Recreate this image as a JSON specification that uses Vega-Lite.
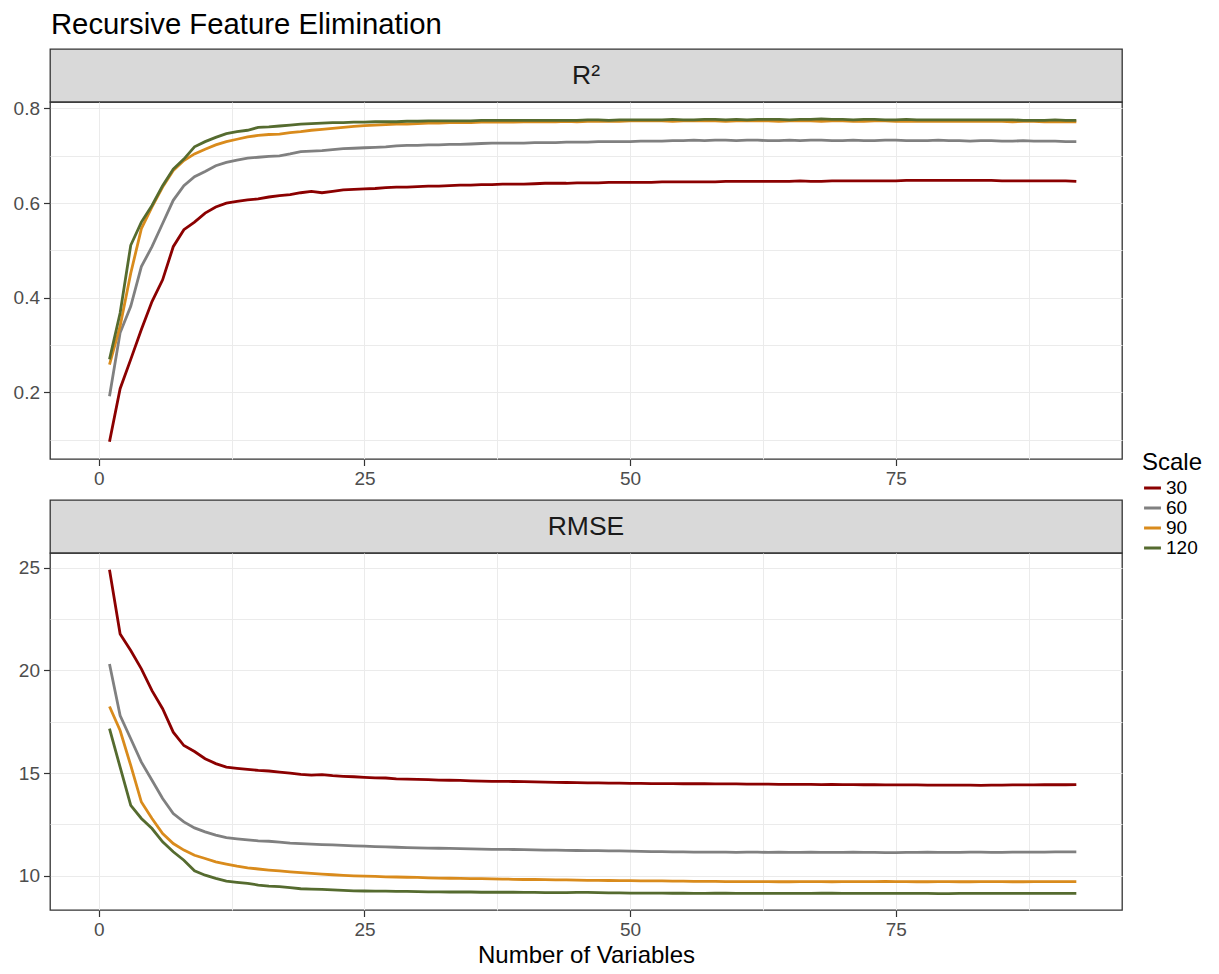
{
  "$schema": "https://vega.github.io/schema/vega-lite/v6.json",
  "background": "white",
  "padding": {"left": 12, "top": 11, "right": 5, "bottom": 5},
  "title": {"text": "Recursive Feature Elimination", "anchor": "start", "fontSize": 29.3, "font": "Liberation Sans", "fontWeight": "normal", "color": "#000000", "offset": 8, "dx": 38.5},
  "config": {
    "font": "Liberation Sans",
    "view": {"stroke": "#333333", "strokeWidth": 1.3},
    "axis": {"domain": false, "grid": true, "gridColor": "#ebebeb", "gridWidth": 1, "tickColor": "#333333", "tickSize": 6.5, "tickWidth": 1.2, "labelFont": "Liberation Sans", "labelFontSize": 19, "labelColor": "#4d4d4d", "labelPadding": 4, "titleFont": "Liberation Sans", "titleFontSize": 24, "titleFontWeight": "normal", "titleColor": "#000000"},
    "legend": {"titleFont": "Liberation Sans", "labelFont": "Liberation Sans", "titleFontSize": 24, "titleFontWeight": "normal", "titleColor": "#000000", "labelFontSize": 19, "labelColor": "#000000", "symbolType": "stroke", "symbolStrokeWidth": 3.2, "symbolSize": 285, "clipHeight": 18, "rowPadding": 1, "titlePadding": 4, "labelOffset": 3}
  },
  "datasets": {
    "s1": [{"label": "R²"}],
    "s2": [{"label": "RMSE"}],
    "d": [
      {"n":1,"scale":"30","r2":0.096,"rmse":24.89},{"n":2,"scale":"30","r2":0.208,"rmse":21.77},{"n":3,"scale":"30","r2":0.270,"rmse":20.96},{"n":4,"scale":"30","r2":0.333,"rmse":20.07},{"n":5,"scale":"30","r2":0.392,"rmse":19.01},{"n":6,"scale":"30","r2":0.438,"rmse":18.13},{"n":7,"scale":"30","r2":0.508,"rmse":16.99},{"n":8,"scale":"30","r2":0.544,"rmse":16.34},{"n":9,"scale":"30","r2":0.560,"rmse":16.05},{"n":10,"scale":"30","r2":0.579,"rmse":15.70},
      {"n":11,"scale":"30","r2":0.592,"rmse":15.46},{"n":12,"scale":"30","r2":0.600,"rmse":15.29},{"n":13,"scale":"30","r2":0.604,"rmse":15.23},{"n":14,"scale":"30","r2":0.607,"rmse":15.18},{"n":15,"scale":"30","r2":0.609,"rmse":15.13},{"n":16,"scale":"30","r2":0.613,"rmse":15.10},{"n":17,"scale":"30","r2":0.616,"rmse":15.05},{"n":18,"scale":"30","r2":0.618,"rmse":15.00},{"n":19,"scale":"30","r2":0.622,"rmse":14.94},{"n":20,"scale":"30","r2":0.625,"rmse":14.90},
      {"n":21,"scale":"30","r2":0.622,"rmse":14.92},{"n":22,"scale":"30","r2":0.625,"rmse":14.87},{"n":23,"scale":"30","r2":0.628,"rmse":14.84},{"n":24,"scale":"30","r2":0.629,"rmse":14.82},{"n":25,"scale":"30","r2":0.630,"rmse":14.79},{"n":26,"scale":"30","r2":0.631,"rmse":14.77},{"n":27,"scale":"30","r2":0.633,"rmse":14.76},{"n":28,"scale":"30","r2":0.634,"rmse":14.72},{"n":29,"scale":"30","r2":0.634,"rmse":14.70},{"n":30,"scale":"30","r2":0.635,"rmse":14.69},
      {"n":31,"scale":"30","r2":0.636,"rmse":14.68},{"n":32,"scale":"30","r2":0.636,"rmse":14.66},{"n":33,"scale":"30","r2":0.637,"rmse":14.65},{"n":34,"scale":"30","r2":0.638,"rmse":14.64},{"n":35,"scale":"30","r2":0.638,"rmse":14.62},{"n":36,"scale":"30","r2":0.639,"rmse":14.61},{"n":37,"scale":"30","r2":0.639,"rmse":14.60},{"n":38,"scale":"30","r2":0.640,"rmse":14.60},{"n":39,"scale":"30","r2":0.640,"rmse":14.59},{"n":40,"scale":"30","r2":0.640,"rmse":14.58},
      {"n":41,"scale":"30","r2":0.641,"rmse":14.57},{"n":42,"scale":"30","r2":0.642,"rmse":14.56},{"n":43,"scale":"30","r2":0.642,"rmse":14.55},{"n":44,"scale":"30","r2":0.642,"rmse":14.54},{"n":45,"scale":"30","r2":0.643,"rmse":14.53},{"n":46,"scale":"30","r2":0.643,"rmse":14.52},{"n":47,"scale":"30","r2":0.643,"rmse":14.52},{"n":48,"scale":"30","r2":0.644,"rmse":14.51},{"n":49,"scale":"30","r2":0.644,"rmse":14.51},{"n":50,"scale":"30","r2":0.644,"rmse":14.50},
      {"n":51,"scale":"30","r2":0.644,"rmse":14.50},{"n":52,"scale":"30","r2":0.644,"rmse":14.49},{"n":53,"scale":"30","r2":0.645,"rmse":14.49},{"n":54,"scale":"30","r2":0.645,"rmse":14.49},{"n":55,"scale":"30","r2":0.645,"rmse":14.48},{"n":56,"scale":"30","r2":0.645,"rmse":14.48},{"n":57,"scale":"30","r2":0.645,"rmse":14.48},{"n":58,"scale":"30","r2":0.645,"rmse":14.47},{"n":59,"scale":"30","r2":0.646,"rmse":14.47},{"n":60,"scale":"30","r2":0.646,"rmse":14.47},
      {"n":61,"scale":"30","r2":0.646,"rmse":14.46},{"n":62,"scale":"30","r2":0.646,"rmse":14.46},{"n":63,"scale":"30","r2":0.646,"rmse":14.46},{"n":64,"scale":"30","r2":0.646,"rmse":14.45},{"n":65,"scale":"30","r2":0.646,"rmse":14.45},{"n":66,"scale":"30","r2":0.647,"rmse":14.45},{"n":67,"scale":"30","r2":0.646,"rmse":14.45},{"n":68,"scale":"30","r2":0.646,"rmse":14.44},{"n":69,"scale":"30","r2":0.647,"rmse":14.45},{"n":70,"scale":"30","r2":0.647,"rmse":14.44},
      {"n":71,"scale":"30","r2":0.647,"rmse":14.44},{"n":72,"scale":"30","r2":0.647,"rmse":14.43},{"n":73,"scale":"30","r2":0.647,"rmse":14.43},{"n":74,"scale":"30","r2":0.647,"rmse":14.42},{"n":75,"scale":"30","r2":0.647,"rmse":14.42},{"n":76,"scale":"30","r2":0.648,"rmse":14.42},{"n":77,"scale":"30","r2":0.648,"rmse":14.42},{"n":78,"scale":"30","r2":0.648,"rmse":14.41},{"n":79,"scale":"30","r2":0.648,"rmse":14.41},{"n":80,"scale":"30","r2":0.648,"rmse":14.41},
      {"n":81,"scale":"30","r2":0.648,"rmse":14.41},{"n":82,"scale":"30","r2":0.648,"rmse":14.41},{"n":83,"scale":"30","r2":0.648,"rmse":14.40},{"n":84,"scale":"30","r2":0.648,"rmse":14.41},{"n":85,"scale":"30","r2":0.647,"rmse":14.41},{"n":86,"scale":"30","r2":0.647,"rmse":14.42},{"n":87,"scale":"30","r2":0.647,"rmse":14.42},{"n":88,"scale":"30","r2":0.647,"rmse":14.42},{"n":89,"scale":"30","r2":0.647,"rmse":14.43},{"n":90,"scale":"30","r2":0.647,"rmse":14.43},
      {"n":91,"scale":"30","r2":0.647,"rmse":14.43},{"n":92,"scale":"30","r2":0.646,"rmse":14.44},

      {"n":1,"scale":"60","r2":0.192,"rmse":20.31},{"n":2,"scale":"60","r2":0.326,"rmse":17.80},{"n":3,"scale":"60","r2":0.382,"rmse":16.67},{"n":4,"scale":"60","r2":0.466,"rmse":15.53},{"n":5,"scale":"60","r2":0.508,"rmse":14.65},{"n":6,"scale":"60","r2":0.557,"rmse":13.76},{"n":7,"scale":"60","r2":0.606,"rmse":13.03},{"n":8,"scale":"60","r2":0.637,"rmse":12.62},{"n":9,"scale":"60","r2":0.656,"rmse":12.33},{"n":10,"scale":"60","r2":0.667,"rmse":12.14},
      {"n":11,"scale":"60","r2":0.679,"rmse":11.98},{"n":12,"scale":"60","r2":0.686,"rmse":11.86},{"n":13,"scale":"60","r2":0.691,"rmse":11.80},{"n":14,"scale":"60","r2":0.695,"rmse":11.75},{"n":15,"scale":"60","r2":0.697,"rmse":11.70},{"n":16,"scale":"60","r2":0.699,"rmse":11.68},{"n":17,"scale":"60","r2":0.700,"rmse":11.64},{"n":18,"scale":"60","r2":0.704,"rmse":11.59},{"n":19,"scale":"60","r2":0.709,"rmse":11.57},{"n":20,"scale":"60","r2":0.710,"rmse":11.54},
      {"n":21,"scale":"60","r2":0.711,"rmse":11.52},{"n":22,"scale":"60","r2":0.713,"rmse":11.50},{"n":23,"scale":"60","r2":0.715,"rmse":11.48},{"n":24,"scale":"60","r2":0.716,"rmse":11.46},{"n":25,"scale":"60","r2":0.717,"rmse":11.44},{"n":26,"scale":"60","r2":0.718,"rmse":11.42},{"n":27,"scale":"60","r2":0.719,"rmse":11.41},{"n":28,"scale":"60","r2":0.721,"rmse":11.39},{"n":29,"scale":"60","r2":0.722,"rmse":11.37},{"n":30,"scale":"60","r2":0.722,"rmse":11.36},
      {"n":31,"scale":"60","r2":0.723,"rmse":11.35},{"n":32,"scale":"60","r2":0.723,"rmse":11.34},{"n":33,"scale":"60","r2":0.724,"rmse":11.33},{"n":34,"scale":"60","r2":0.724,"rmse":11.32},{"n":35,"scale":"60","r2":0.725,"rmse":11.31},{"n":36,"scale":"60","r2":0.726,"rmse":11.30},{"n":37,"scale":"60","r2":0.727,"rmse":11.29},{"n":38,"scale":"60","r2":0.727,"rmse":11.29},{"n":39,"scale":"60","r2":0.727,"rmse":11.28},{"n":40,"scale":"60","r2":0.727,"rmse":11.27},
      {"n":41,"scale":"60","r2":0.728,"rmse":11.26},{"n":42,"scale":"60","r2":0.728,"rmse":11.25},{"n":43,"scale":"60","r2":0.728,"rmse":11.25},{"n":44,"scale":"60","r2":0.729,"rmse":11.24},{"n":45,"scale":"60","r2":0.729,"rmse":11.23},{"n":46,"scale":"60","r2":0.729,"rmse":11.22},{"n":47,"scale":"60","r2":0.730,"rmse":11.22},{"n":48,"scale":"60","r2":0.730,"rmse":11.21},{"n":49,"scale":"60","r2":0.730,"rmse":11.21},{"n":50,"scale":"60","r2":0.730,"rmse":11.20},
      {"n":51,"scale":"60","r2":0.731,"rmse":11.19},{"n":52,"scale":"60","r2":0.731,"rmse":11.18},{"n":53,"scale":"60","r2":0.731,"rmse":11.18},{"n":54,"scale":"60","r2":0.732,"rmse":11.16},{"n":55,"scale":"60","r2":0.732,"rmse":11.16},{"n":56,"scale":"60","r2":0.733,"rmse":11.15},{"n":57,"scale":"60","r2":0.732,"rmse":11.15},{"n":58,"scale":"60","r2":0.733,"rmse":11.15},{"n":59,"scale":"60","r2":0.733,"rmse":11.15},{"n":60,"scale":"60","r2":0.732,"rmse":11.14},
      {"n":61,"scale":"60","r2":0.733,"rmse":11.15},{"n":62,"scale":"60","r2":0.733,"rmse":11.15},{"n":63,"scale":"60","r2":0.732,"rmse":11.14},{"n":64,"scale":"60","r2":0.732,"rmse":11.15},{"n":65,"scale":"60","r2":0.733,"rmse":11.14},{"n":66,"scale":"60","r2":0.732,"rmse":11.14},{"n":67,"scale":"60","r2":0.733,"rmse":11.15},{"n":68,"scale":"60","r2":0.733,"rmse":11.14},{"n":69,"scale":"60","r2":0.732,"rmse":11.14},{"n":70,"scale":"60","r2":0.732,"rmse":11.14},
      {"n":71,"scale":"60","r2":0.733,"rmse":11.15},{"n":72,"scale":"60","r2":0.732,"rmse":11.14},{"n":73,"scale":"60","r2":0.732,"rmse":11.14},{"n":74,"scale":"60","r2":0.733,"rmse":11.13},{"n":75,"scale":"60","r2":0.733,"rmse":11.13},{"n":76,"scale":"60","r2":0.732,"rmse":11.14},{"n":77,"scale":"60","r2":0.732,"rmse":11.14},{"n":78,"scale":"60","r2":0.732,"rmse":11.15},{"n":79,"scale":"60","r2":0.733,"rmse":11.14},{"n":80,"scale":"60","r2":0.732,"rmse":11.14},
      {"n":81,"scale":"60","r2":0.732,"rmse":11.14},{"n":82,"scale":"60","r2":0.731,"rmse":11.15},{"n":83,"scale":"60","r2":0.732,"rmse":11.15},{"n":84,"scale":"60","r2":0.732,"rmse":11.14},{"n":85,"scale":"60","r2":0.731,"rmse":11.14},{"n":86,"scale":"60","r2":0.731,"rmse":11.15},{"n":87,"scale":"60","r2":0.732,"rmse":11.15},{"n":88,"scale":"60","r2":0.731,"rmse":11.15},{"n":89,"scale":"60","r2":0.731,"rmse":11.15},{"n":90,"scale":"60","r2":0.731,"rmse":11.16},
      {"n":91,"scale":"60","r2":0.730,"rmse":11.16},{"n":92,"scale":"60","r2":0.730,"rmse":11.16},

      {"n":1,"scale":"90","r2":0.259,"rmse":18.24},{"n":2,"scale":"90","r2":0.340,"rmse":17.07},{"n":3,"scale":"90","r2":0.452,"rmse":15.37},{"n":4,"scale":"90","r2":0.546,"rmse":13.59},{"n":5,"scale":"90","r2":0.592,"rmse":12.79},{"n":6,"scale":"90","r2":0.634,"rmse":12.06},{"n":7,"scale":"90","r2":0.669,"rmse":11.57},{"n":8,"scale":"90","r2":0.690,"rmse":11.25},{"n":9,"scale":"90","r2":0.704,"rmse":11.00},{"n":10,"scale":"90","r2":0.714,"rmse":10.84},
      {"n":11,"scale":"90","r2":0.723,"rmse":10.68},{"n":12,"scale":"90","r2":0.730,"rmse":10.57},{"n":13,"scale":"90","r2":0.735,"rmse":10.47},{"n":14,"scale":"90","r2":0.740,"rmse":10.39},{"n":15,"scale":"90","r2":0.743,"rmse":10.33},{"n":16,"scale":"90","r2":0.745,"rmse":10.28},{"n":17,"scale":"90","r2":0.746,"rmse":10.24},{"n":18,"scale":"90","r2":0.749,"rmse":10.19},{"n":19,"scale":"90","r2":0.751,"rmse":10.15},{"n":20,"scale":"90","r2":0.754,"rmse":10.12},
      {"n":21,"scale":"90","r2":0.756,"rmse":10.08},{"n":22,"scale":"90","r2":0.758,"rmse":10.05},{"n":23,"scale":"90","r2":0.760,"rmse":10.02},{"n":24,"scale":"90","r2":0.762,"rmse":10.00},{"n":25,"scale":"90","r2":0.764,"rmse":9.98},{"n":26,"scale":"90","r2":0.765,"rmse":9.97},{"n":27,"scale":"90","r2":0.766,"rmse":9.95},{"n":28,"scale":"90","r2":0.767,"rmse":9.94},{"n":29,"scale":"90","r2":0.767,"rmse":9.93},{"n":30,"scale":"90","r2":0.768,"rmse":9.92},
      {"n":31,"scale":"90","r2":0.769,"rmse":9.90},{"n":32,"scale":"90","r2":0.769,"rmse":9.89},{"n":33,"scale":"90","r2":0.770,"rmse":9.88},{"n":34,"scale":"90","r2":0.770,"rmse":9.87},{"n":35,"scale":"90","r2":0.770,"rmse":9.86},{"n":36,"scale":"90","r2":0.771,"rmse":9.86},{"n":37,"scale":"90","r2":0.771,"rmse":9.85},{"n":38,"scale":"90","r2":0.771,"rmse":9.84},{"n":39,"scale":"90","r2":0.771,"rmse":9.83},{"n":40,"scale":"90","r2":0.772,"rmse":9.82},
      {"n":41,"scale":"90","r2":0.772,"rmse":9.82},{"n":42,"scale":"90","r2":0.772,"rmse":9.81},{"n":43,"scale":"90","r2":0.772,"rmse":9.80},{"n":44,"scale":"90","r2":0.773,"rmse":9.80},{"n":45,"scale":"90","r2":0.772,"rmse":9.79},{"n":46,"scale":"90","r2":0.773,"rmse":9.78},{"n":47,"scale":"90","r2":0.773,"rmse":9.78},{"n":48,"scale":"90","r2":0.773,"rmse":9.77},{"n":49,"scale":"90","r2":0.773,"rmse":9.76},{"n":50,"scale":"90","r2":0.774,"rmse":9.76},
      {"n":51,"scale":"90","r2":0.774,"rmse":9.75},{"n":52,"scale":"90","r2":0.774,"rmse":9.75},{"n":53,"scale":"90","r2":0.774,"rmse":9.75},{"n":54,"scale":"90","r2":0.773,"rmse":9.74},{"n":55,"scale":"90","r2":0.774,"rmse":9.74},{"n":56,"scale":"90","r2":0.774,"rmse":9.73},{"n":57,"scale":"90","r2":0.774,"rmse":9.73},{"n":58,"scale":"90","r2":0.774,"rmse":9.73},{"n":59,"scale":"90","r2":0.773,"rmse":9.72},{"n":60,"scale":"90","r2":0.774,"rmse":9.72},
      {"n":61,"scale":"90","r2":0.774,"rmse":9.72},{"n":62,"scale":"90","r2":0.774,"rmse":9.72},{"n":63,"scale":"90","r2":0.774,"rmse":9.72},{"n":64,"scale":"90","r2":0.773,"rmse":9.71},{"n":65,"scale":"90","r2":0.774,"rmse":9.71},{"n":66,"scale":"90","r2":0.774,"rmse":9.72},{"n":67,"scale":"90","r2":0.774,"rmse":9.72},{"n":68,"scale":"90","r2":0.773,"rmse":9.72},{"n":69,"scale":"90","r2":0.774,"rmse":9.71},{"n":70,"scale":"90","r2":0.774,"rmse":9.72},
      {"n":71,"scale":"90","r2":0.773,"rmse":9.72},{"n":72,"scale":"90","r2":0.773,"rmse":9.72},{"n":73,"scale":"90","r2":0.774,"rmse":9.72},{"n":74,"scale":"90","r2":0.774,"rmse":9.73},{"n":75,"scale":"90","r2":0.773,"rmse":9.72},{"n":76,"scale":"90","r2":0.773,"rmse":9.72},{"n":77,"scale":"90","r2":0.773,"rmse":9.71},{"n":78,"scale":"90","r2":0.773,"rmse":9.71},{"n":79,"scale":"90","r2":0.773,"rmse":9.72},{"n":80,"scale":"90","r2":0.773,"rmse":9.72},
      {"n":81,"scale":"90","r2":0.773,"rmse":9.71},{"n":82,"scale":"90","r2":0.773,"rmse":9.71},{"n":83,"scale":"90","r2":0.773,"rmse":9.72},{"n":84,"scale":"90","r2":0.773,"rmse":9.72},{"n":85,"scale":"90","r2":0.773,"rmse":9.72},{"n":86,"scale":"90","r2":0.772,"rmse":9.71},{"n":87,"scale":"90","r2":0.773,"rmse":9.71},{"n":88,"scale":"90","r2":0.773,"rmse":9.72},{"n":89,"scale":"90","r2":0.772,"rmse":9.72},{"n":90,"scale":"90","r2":0.772,"rmse":9.72},
      {"n":91,"scale":"90","r2":0.772,"rmse":9.72},{"n":92,"scale":"90","r2":0.772,"rmse":9.72},

      {"n":1,"scale":"120","r2":0.270,"rmse":17.16},{"n":2,"scale":"120","r2":0.368,"rmse":15.29},{"n":3,"scale":"120","r2":0.511,"rmse":13.43},{"n":4,"scale":"120","r2":0.560,"rmse":12.79},{"n":5,"scale":"120","r2":0.595,"rmse":12.30},{"n":6,"scale":"120","r2":0.637,"rmse":11.65},{"n":7,"scale":"120","r2":0.672,"rmse":11.17},{"n":8,"scale":"120","r2":0.693,"rmse":10.76},{"n":9,"scale":"120","r2":0.719,"rmse":10.24},{"n":10,"scale":"120","r2":0.730,"rmse":10.03},
      {"n":11,"scale":"120","r2":0.739,"rmse":9.87},{"n":12,"scale":"120","r2":0.747,"rmse":9.74},{"n":13,"scale":"120","r2":0.751,"rmse":9.68},{"n":14,"scale":"120","r2":0.754,"rmse":9.63},{"n":15,"scale":"120","r2":0.760,"rmse":9.55},{"n":16,"scale":"120","r2":0.761,"rmse":9.50},{"n":17,"scale":"120","r2":0.763,"rmse":9.47},{"n":18,"scale":"120","r2":0.765,"rmse":9.42},{"n":19,"scale":"120","r2":0.767,"rmse":9.37},{"n":20,"scale":"120","r2":0.768,"rmse":9.35},
      {"n":21,"scale":"120","r2":0.769,"rmse":9.34},{"n":22,"scale":"120","r2":0.770,"rmse":9.31},{"n":23,"scale":"120","r2":0.770,"rmse":9.29},{"n":24,"scale":"120","r2":0.771,"rmse":9.27},{"n":25,"scale":"120","r2":0.771,"rmse":9.26},{"n":26,"scale":"120","r2":0.772,"rmse":9.25},{"n":27,"scale":"120","r2":0.772,"rmse":9.25},{"n":28,"scale":"120","r2":0.772,"rmse":9.24},{"n":29,"scale":"120","r2":0.773,"rmse":9.24},{"n":30,"scale":"120","r2":0.773,"rmse":9.23},
      {"n":31,"scale":"120","r2":0.774,"rmse":9.22},{"n":32,"scale":"120","r2":0.774,"rmse":9.22},{"n":33,"scale":"120","r2":0.774,"rmse":9.21},{"n":34,"scale":"120","r2":0.774,"rmse":9.21},{"n":35,"scale":"120","r2":0.774,"rmse":9.21},{"n":36,"scale":"120","r2":0.775,"rmse":9.20},{"n":37,"scale":"120","r2":0.775,"rmse":9.20},{"n":38,"scale":"120","r2":0.775,"rmse":9.20},{"n":39,"scale":"120","r2":0.775,"rmse":9.20},{"n":40,"scale":"120","r2":0.775,"rmse":9.19},
      {"n":41,"scale":"120","r2":0.775,"rmse":9.19},{"n":42,"scale":"120","r2":0.775,"rmse":9.18},{"n":43,"scale":"120","r2":0.775,"rmse":9.18},{"n":44,"scale":"120","r2":0.775,"rmse":9.18},{"n":45,"scale":"120","r2":0.775,"rmse":9.19},{"n":46,"scale":"120","r2":0.776,"rmse":9.19},{"n":47,"scale":"120","r2":0.776,"rmse":9.18},{"n":48,"scale":"120","r2":0.775,"rmse":9.17},{"n":49,"scale":"120","r2":0.776,"rmse":9.17},{"n":50,"scale":"120","r2":0.776,"rmse":9.16},
      {"n":51,"scale":"120","r2":0.776,"rmse":9.16},{"n":52,"scale":"120","r2":0.776,"rmse":9.16},{"n":53,"scale":"120","r2":0.776,"rmse":9.16},{"n":54,"scale":"120","r2":0.777,"rmse":9.15},{"n":55,"scale":"120","r2":0.776,"rmse":9.15},{"n":56,"scale":"120","r2":0.776,"rmse":9.14},{"n":57,"scale":"120","r2":0.777,"rmse":9.14},{"n":58,"scale":"120","r2":0.777,"rmse":9.15},{"n":59,"scale":"120","r2":0.776,"rmse":9.15},{"n":60,"scale":"120","r2":0.777,"rmse":9.14},
      {"n":61,"scale":"120","r2":0.776,"rmse":9.14},{"n":62,"scale":"120","r2":0.777,"rmse":9.14},{"n":63,"scale":"120","r2":0.777,"rmse":9.14},{"n":64,"scale":"120","r2":0.777,"rmse":9.14},{"n":65,"scale":"120","r2":0.776,"rmse":9.14},{"n":66,"scale":"120","r2":0.777,"rmse":9.14},{"n":67,"scale":"120","r2":0.777,"rmse":9.14},{"n":68,"scale":"120","r2":0.778,"rmse":9.15},{"n":69,"scale":"120","r2":0.777,"rmse":9.15},{"n":70,"scale":"120","r2":0.777,"rmse":9.14},
      {"n":71,"scale":"120","r2":0.776,"rmse":9.14},{"n":72,"scale":"120","r2":0.777,"rmse":9.14},{"n":73,"scale":"120","r2":0.777,"rmse":9.14},{"n":74,"scale":"120","r2":0.776,"rmse":9.14},{"n":75,"scale":"120","r2":0.776,"rmse":9.14},{"n":76,"scale":"120","r2":0.777,"rmse":9.14},{"n":77,"scale":"120","r2":0.776,"rmse":9.14},{"n":78,"scale":"120","r2":0.776,"rmse":9.14},{"n":79,"scale":"120","r2":0.776,"rmse":9.13},{"n":80,"scale":"120","r2":0.776,"rmse":9.13},
      {"n":81,"scale":"120","r2":0.776,"rmse":9.14},{"n":82,"scale":"120","r2":0.776,"rmse":9.14},{"n":83,"scale":"120","r2":0.776,"rmse":9.14},{"n":84,"scale":"120","r2":0.776,"rmse":9.14},{"n":85,"scale":"120","r2":0.776,"rmse":9.14},{"n":86,"scale":"120","r2":0.776,"rmse":9.14},{"n":87,"scale":"120","r2":0.775,"rmse":9.14},{"n":88,"scale":"120","r2":0.775,"rmse":9.14},{"n":89,"scale":"120","r2":0.775,"rmse":9.14},{"n":90,"scale":"120","r2":0.776,"rmse":9.14},
      {"n":91,"scale":"120","r2":0.775,"rmse":9.14},{"n":92,"scale":"120","r2":0.775,"rmse":9.14}
    ]
  },
  "spacing": 9,
  "resolve": {"scale": {"color": "shared"}},
  "vconcat": [
    {
      "spacing": 0,
      "bounds": "flush",
      "vconcat": [
        {
          "width": 1072, "height": 53,
          "data": {"name": "s1"},
          "view": {"fill": "#d9d9d9", "stroke": "#333333", "strokeWidth": 1.3},
          "mark": {"type": "text", "fontSize": 26.5, "font": "Liberation Sans", "color": "#1a1a1a", "baseline": "middle", "align": "center"},
          "encoding": {"text": {"field": "label", "type": "nominal"}}
        },
        {
          "width": 1072, "height": 357,
          "data": {"name": "d"},
          "mark": {"type": "line", "strokeWidth": 2.8, "clip": true},
          "encoding": {
            "x": {"field": "n", "type": "quantitative", "scale": {"domain": [-4.6, 96.3], "nice": false, "zero": false},
                  "axis": {"title": null, "values": [0, 12.5, 25, 37.5, 50, 62.5, 75, 87.5],
                           "labelExpr": "datum.value % 25 === 0 ? datum.label : ''",
                           "tickOpacity": {"condition": {"test": "datum.value % 25 === 0", "value": 1}, "value": 0}}},
            "y": {"field": "r2", "type": "quantitative", "scale": {"domain": [0.0595, 0.8137], "nice": false, "zero": false},
                  "axis": {"title": null, "values": [0.1, 0.2, 0.3, 0.4, 0.5, 0.6, 0.7, 0.8], "format": ".1f",
                           "labelExpr": "round(datum.value * 10) % 2 === 0 ? datum.label : ''",
                           "tickOpacity": {"condition": {"test": "round(datum.value * 10) % 2 === 0", "value": 1}, "value": 0}}},
            "color": {"field": "scale", "type": "nominal", "scale": {"domain": ["30", "60", "90", "120"], "range": ["#8b0000", "#808080", "#d98b1c", "#556b2f"]},
                      "legend": {"title": "Scale", "orient": "none", "legendX": 1092, "legendY": 402}}
          }
        }
      ]
    },
    {
      "spacing": 0,
      "bounds": "flush",
      "vconcat": [
        {
          "width": 1072, "height": 53,
          "data": {"name": "s2"},
          "view": {"fill": "#d9d9d9", "stroke": "#333333", "strokeWidth": 1.3},
          "mark": {"type": "text", "fontSize": 26.5, "font": "Liberation Sans", "color": "#1a1a1a", "baseline": "middle", "align": "center"},
          "encoding": {"text": {"field": "label", "type": "nominal"}}
        },
        {
          "width": 1072, "height": 357,
          "data": {"name": "d"},
          "mark": {"type": "line", "strokeWidth": 2.8, "clip": true},
          "encoding": {
            "x": {"field": "n", "type": "quantitative", "scale": {"domain": [-4.6, 96.3], "nice": false, "zero": false},
                  "axis": {"title": "Number of Variables", "titlePadding": 4, "values": [0, 12.5, 25, 37.5, 50, 62.5, 75, 87.5],
                           "labelExpr": "datum.value % 25 === 0 ? datum.label : ''",
                           "tickOpacity": {"condition": {"test": "datum.value % 25 === 0", "value": 1}, "value": 0}}},
            "y": {"field": "rmse", "type": "quantitative", "scale": {"domain": [8.335, 25.71], "nice": false, "zero": false},
                  "axis": {"title": null, "values": [10, 12.5, 15, 17.5, 20, 22.5, 25],
                           "labelExpr": "datum.value % 5 === 0 ? datum.label : ''",
                           "tickOpacity": {"condition": {"test": "datum.value % 5 === 0", "value": 1}, "value": 0}}},
            "color": {"field": "scale", "type": "nominal", "scale": {"domain": ["30", "60", "90", "120"], "range": ["#8b0000", "#808080", "#d98b1c", "#556b2f"]},
                      "legend": {"title": "Scale", "orient": "none", "legendX": 1092, "legendY": 402}}
          }
        }
      ]
    }
  ]
}
